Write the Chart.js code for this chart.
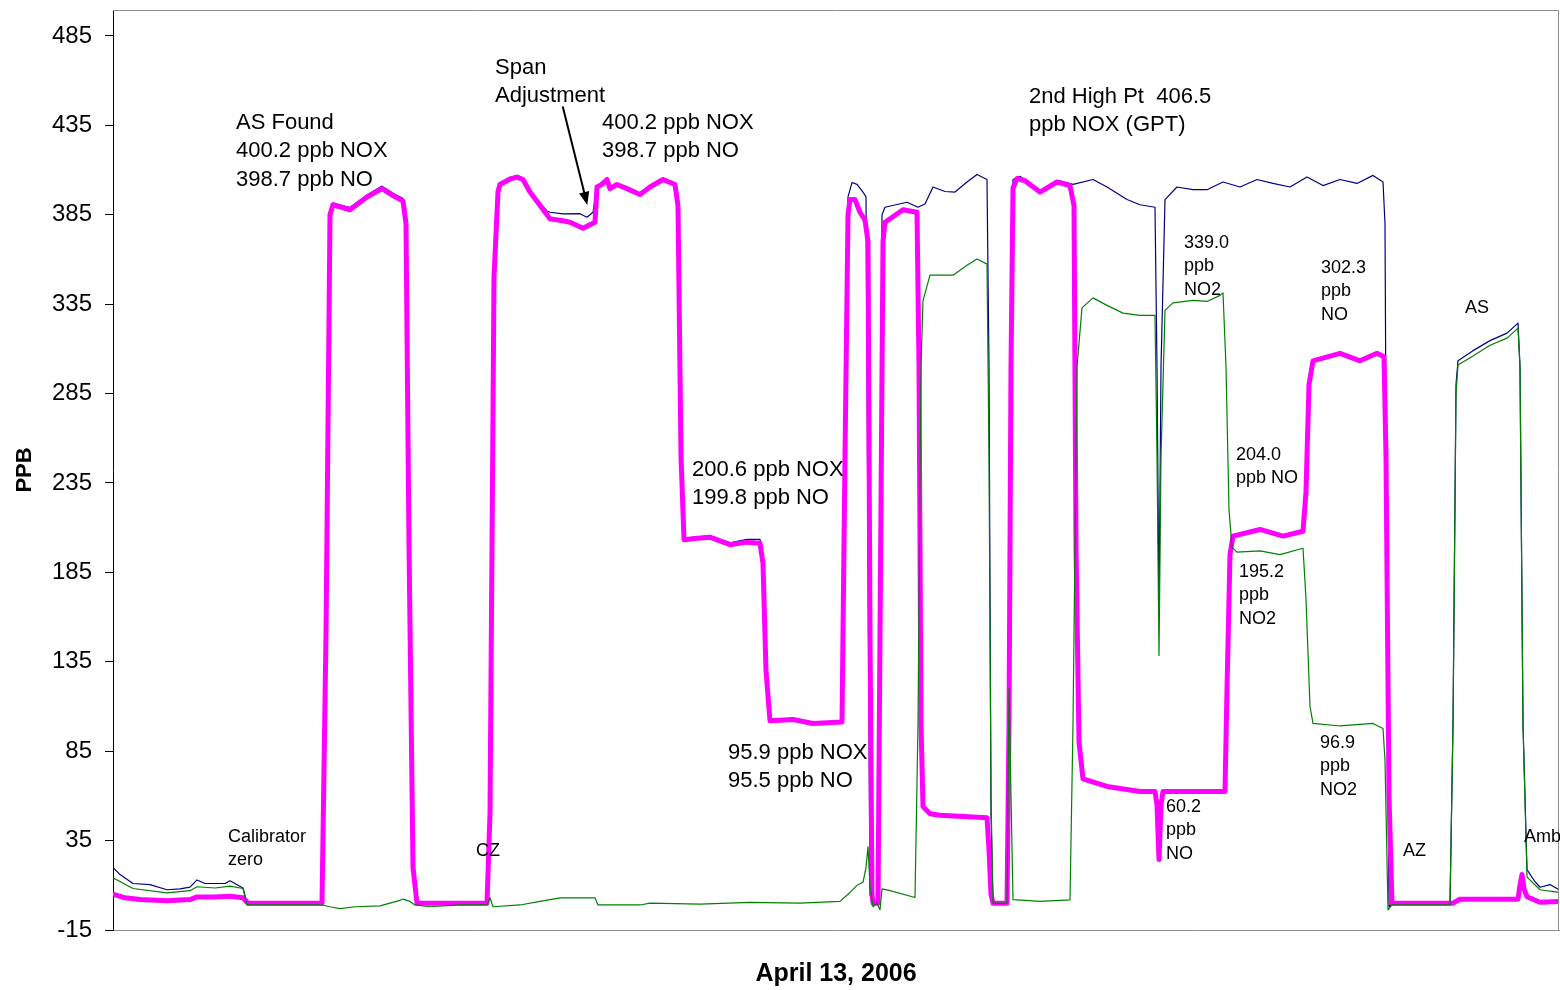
<!DOCTYPE html>
<html>
<head>
<meta charset="utf-8">
<script src="https://cdn.jsdelivr.net/npm/chart.js@4"></script>
<style>
  html, body { margin: 0; padding: 0; background: #fff; }
  #wrap { width: 1560px; height: 990px; }
</style>
</head>
<body>
<div id="wrap"><canvas id="chart" width="1560" height="990"></canvas></div>
<script>
// y axis tick labels (ppb)
const yTicks = [-15, 35, 85, 135, 185, 235, 285, 335, 385, 435, 485];

// NOX analyser trace (sample index, ppb)
const noxT = [0, 7, 20, 37, 54, 67, 77, 84, 92, 102, 112, 117, 125, 130, 134, 209, 213, 217, 220, 237, 254, 269, 280, 290, 293, 296, 300, 304,
  374, 377, 381, 385, 387, 404, 410, 417, 434, 437, 450, 467, 474, 480, 484, 494, 497, 504, 514, 527, 537, 550, 562, 565, 568, 571,
  597, 617, 634, 647, 650, 653, 657, 680, 700, 729, 732, 735, 739, 744, 750, 753, 755, 757, 760, 765, 767, 769, 772, 794, 805, 812,
  820, 832, 842, 854, 864, 874, 876, 878, 880, 895, 897, 900, 907, 927, 947, 960, 980, 994, 1014, 1027, 1042, 1044, 1046, 1048, 1052,
  1064, 1080, 1094, 1110, 1127, 1144, 1160, 1177, 1194, 1210, 1227, 1244, 1260, 1270, 1272, 1274, 1276, 1279, 1337, 1340, 1343, 1345,
  1360, 1377, 1394, 1405, 1407, 1410, 1414, 1422, 1427, 1437, 1446];
const noxV = [20, 16, 11, 10.4, 7.5, 8, 9, 13, 11, 11, 11, 12.5, 10, 8.5, 0, 0, 150, 385, 391.5, 389, 396, 401, 397, 394, 380, 200, 20, 0,
  0, 50, 350, 399, 403, 407, 405.5, 398.5, 387, 386.4, 385.5, 385.6, 383.6, 386.4, 401, 405.5, 400.5, 402.5, 400.5, 397, 401, 405.5, 402.5, 390, 250, 204,
  205.5, 201.5, 203.5, 203.5, 190, 130, 102.5, 103.5, 101, 102, 250, 395, 403, 402, 397.7, 395, 200, 5, 0, 0, 150, 385, 389.2, 392, 389.2, 391,
  400.5, 398, 397.7, 403.3, 407.5, 404.7, 300, 50, 0, 0, 150, 404.7, 406.5, 398.5, 404, 402, 404.7, 400.5, 393.5, 390.6, 389.2, 300, 162, 300, 393.5,
  400.5, 399, 399, 403.3, 400.5, 404.7, 402.5, 400.5, 406.1, 401.3, 404.7, 402.5, 407, 403.3, 380, 150, -2, 0, 0, 100, 290, 303.3,
  309, 314.6, 318.8, 324.4, 300, 100, 18.8, 12, 8.9, 10.4, 7.5];

// NO trace
const noT = [0, 12, 27, 54, 77, 84, 102, 117, 130, 135, 209, 213, 217, 220, 237, 254, 269, 280, 290, 293, 296, 300, 304,
  374, 377, 381, 385, 387, 397, 404, 410, 417, 434, 437, 450, 457, 470, 482, 484, 489, 494, 497, 504, 514, 527, 537, 550, 562, 565, 568, 571,
  582, 597, 617, 634, 647, 650, 653, 657, 680, 700, 729, 732, 735, 737, 742, 747, 752, 755, 757, 759, 760, 765, 767, 770, 772, 790, 804,
  806, 808, 810, 817, 827, 874, 876, 878, 880, 894, 896, 898, 900, 904, 912, 927, 944, 957, 961, 963, 966, 970, 994, 1027, 1042, 1044,
  1046, 1048, 1050, 1112, 1114, 1117, 1120, 1147, 1170, 1190, 1193, 1196, 1200, 1227, 1247, 1264, 1271, 1273, 1276, 1279, 1340, 1347,
  1405, 1407, 1409, 1411, 1414, 1427, 1446];
const noV = [5, 3, 2, 1.4, 2, 3.5, 3.5, 3.9, 3, 0, 0, 150, 385, 390.6, 387.8, 394.9, 399.6, 395.7, 392.6, 380, 200, 20, 0,
  0, 50, 350, 398, 401.9, 405, 406, 404.7, 397.7, 385, 382.7, 381.6, 380.8, 377.4, 380.8, 400.5, 402, 404.7, 399.6, 401.9, 399.6, 396.3, 400.5, 404.7, 401.9, 390, 250, 203.3,
  204, 204.7, 200.5, 201.9, 201.3, 190, 130, 102, 102.7, 100.5, 101.3, 250, 385, 393.5, 393.5, 386.4, 382, 370, 150, 5, 0, 0, 150, 370, 380.8, 387.8, 386.4,
  300, 100, 54, 50, 49.2, 47.8, 30, 5, 0, 0, 100, 300, 400, 405.3, 404, 397.7, 403.3, 401.3, 390, 200, 90, 69.5, 65.3, 62.5, 62.5, 55,
  24.4, 55, 62.5, 62.5, 120, 195, 205.3, 209, 205.3, 208, 230, 290, 303.3, 307.5, 303.3, 307.5, 305.6, 250, 60, 0, 0, 2.2,
  2.2, 10, 16, 8, 3.6, 0.5, 1];

// NO2 trace
const no2T = [0, 20, 54, 77, 84, 102, 117, 130, 134, 209, 217, 227, 242, 267, 287, 290, 297, 302, 317, 347, 374, 377, 380, 407, 427, 447,
  467, 482, 485, 527, 537, 587, 637, 687, 727, 737, 744, 750, 753, 755, 757, 760, 764, 767, 769, 777, 802, 805, 808, 810, 817, 840, 854,
  864, 874, 876, 878, 880, 894, 896, 898, 900, 904, 927, 957, 960, 964, 969, 980, 994, 1010, 1027, 1042, 1044, 1046, 1048, 1052, 1060,
  1080, 1094, 1107, 1110, 1113, 1116, 1119, 1124, 1147, 1167, 1190, 1193, 1197, 1200, 1227, 1260, 1270, 1272, 1275, 1279, 1337, 1340,
  1343, 1345, 1360, 1377, 1394, 1405, 1407, 1410, 1414, 1427, 1446];
const no2V = [14.2, 8.2, 5.8, 7, 9.2, 8.5, 9.5, 8.2, -1, -1, -2, -3, -2, -1.5, 1.6, 2.3, 1, -1, -2, -1, -1, 3, -2, -1, 1, 3,
  3, 3, -1, -1, 0, -0.5, 0.5, 0, 1, 6, 10, 11.7, 20, 31.5, 10, -2, 0, -3.7, 8, 7, 3.2, 100, 300, 337, 351.2, 351.2, 356.8,
  360.2, 357.4, 250, 60, 0, 0, 120, 60, 2, 1.9, 1, 1.9, 100, 300, 332.9, 338.5, 334.3, 330, 328.7, 328.7, 250, 138.5, 250, 331.5, 335.7,
  337.1, 336.5, 339.9, 341.3, 300, 220, 199, 196.3, 197, 194.9, 198.5, 170, 110, 100.5, 99.1, 100.5, 97.7, 80, -3.7, -1, -1, 100,
  285, 301, 306, 312, 316, 321.6, 300, 100, 14.6, 7.5, 6];

// text labels placed at (sample index, ppb of first line)
const bigNotes = [
  { t: 123, v: 436.3, lines: ["AS Found", "400.2 ppb NOX", "398.7 ppb NO"] },
  { t: 382, v: 467.1, lines: ["Span", "Adjustment"] },
  { t: 489, v: 436.3, lines: ["400.2 ppb NOX", "398.7 ppb NO"] },
  { t: 916, v: 450.9, lines: ["2nd High Pt  406.5", "ppb NOX (GPT)"] },
  { t: 579, v: 242.3, lines: ["200.6 ppb NOX", "199.8 ppb NO"] },
  { t: 615, v: 84, lines: ["95.9 ppb NOX", "95.5 ppb NO"] },
];
const smallNotes = [
  { t: 115, v: 37, lines: ["Calibrator", "zero"] },
  { t: 363, v: 29.2, lines: ["CZ"] },
  { t: 1071, v: 369.2, lines: ["339.0", "ppb", "NO2"] },
  { t: 1208, v: 355.2, lines: ["302.3", "ppb", "NO"] },
  { t: 1352, v: 332.9, lines: ["AS"] },
  { t: 1123, v: 250.7, lines: ["204.0", "ppb NO"] },
  { t: 1126, v: 185.2, lines: ["195.2", "ppb", "NO2"] },
  { t: 1207, v: 89.6, lines: ["96.9", "ppb", "NO2"] },
  { t: 1053, v: 53.8, lines: ["60.2", "ppb", "NO"] },
  { t: 1290, v: 29.2, lines: ["AZ"] },
  { t: 1411, v: 37, lines: ["Amb"] },
];
// arrow from the "Span Adjustment" label down to the trace
const arrowFrom = { t: 449.7, v: 445.5 };
const arrowTo = { t: 474.3, v: 390.5 };

const FONT = "'Liberation Sans', Arial, sans-serif";

function pairs(ts, vs) {
  return ts.map((t, i) => ({ x: t, y: vs[i] }));
}

const notesPlugin = {
  id: "notes",
  afterDatasetsDraw(chart) {
    const ctx = chart.ctx;
    const xs = chart.scales.x;
    const ys = chart.scales.y;
    const area = chart.chartArea;
    ctx.save();
    // frame top and right
    ctx.strokeStyle = "#8c8c8c";
    ctx.lineWidth = 1;
    ctx.beginPath();
    ctx.moveTo(area.left, area.top + 0.5);
    ctx.lineTo(area.right - 0.5, area.top + 0.5);
    ctx.lineTo(area.right - 0.5, area.bottom);
    ctx.stroke();

    ctx.fillStyle = "#000";
    ctx.textAlign = "left";
    ctx.textBaseline = "middle";
    const drawNotes = (notes, size, gap) => {
      ctx.font = size + "px " + FONT;
      notes.forEach((n) => {
        const x = xs.getPixelForValue(n.t);
        const y = ys.getPixelForValue(n.v);
        n.lines.forEach((line, i) => ctx.fillText(line, x, y + i * gap));
      });
    };
    drawNotes(bigNotes, 22, 28.3);
    drawNotes(smallNotes, 18, 23.5);

    // arrow
    const x1 = xs.getPixelForValue(arrowFrom.t), y1 = ys.getPixelForValue(arrowFrom.v);
    const x2 = xs.getPixelForValue(arrowTo.t), y2 = ys.getPixelForValue(arrowTo.v);
    const ang = Math.atan2(y2 - y1, x2 - x1);
    const head = 14;
    ctx.strokeStyle = "#000";
    ctx.lineWidth = 2;
    ctx.beginPath();
    ctx.moveTo(x1, y1);
    ctx.lineTo(x2 - Math.cos(ang) * head * 0.8, y2 - Math.sin(ang) * head * 0.8);
    ctx.stroke();
    ctx.beginPath();
    ctx.moveTo(x2, y2);
    ctx.lineTo(x2 - head * Math.cos(ang - 0.38), y2 - head * Math.sin(ang - 0.38));
    ctx.lineTo(x2 - head * Math.cos(ang + 0.38), y2 - head * Math.sin(ang + 0.38));
    ctx.closePath();
    ctx.fill();
    ctx.restore();
  },
};

new Chart(document.getElementById("chart"), {
  type: "line",
  data: {
    // first dataset is drawn on top
    datasets: [
      { label: "NO2", data: pairs(no2T, no2V), borderColor: "#008000", borderWidth: 1.2 },
      { label: "NO", data: pairs(noT, noV), borderColor: "#ff00ff", borderWidth: 5 },
      { label: "NOX", data: pairs(noxT, noxV), borderColor: "#000080", borderWidth: 1.2 },
    ],
  },
  options: {
    responsive: false,
    animation: false,
    elements: {
      point: { radius: 0 },
      line: { tension: 0, fill: false, borderJoinStyle: "round", borderCapStyle: "round" },
    },
    layout: { padding: { top: 10, right: 1, left: 0, bottom: 0 } },
    scales: {
      x: {
        type: "linear",
        min: 0,
        max: 1446,
        ticks: { display: false },
        grid: { display: false },
        border: { color: "#8c8c8c", width: 1 },
        title: {
          display: true,
          text: "April 13, 2006",
          color: "#000",
          font: { family: FONT, size: 25, weight: "bold" },
          padding: { top: 0, bottom: 1 },
        },
        afterFit(scale) {
          scale.height = 60;
          scale.paddingLeft = 0;
          scale.paddingRight = 0;
        },
      },
      y: {
        type: "linear",
        min: -15,
        max: 499.5,
        afterBuildTicks(scale) {
          scale.ticks = yTicks.map((v) => ({ value: v }));
        },
        ticks: {
          color: "#000",
          padding: 13,
          font: { family: FONT, size: 24 },
          callback: (v) => String(v),
        },
        grid: { drawOnChartArea: false, drawTicks: true, tickLength: 8, color: "#000" },
        border: { color: "#000", width: 1 },
        title: {
          display: true,
          text: "PPB",
          color: "#000",
          font: { family: FONT, size: 22, weight: "bold" },
          padding: { top: 12, bottom: 0 },
        },
        afterFit(scale) {
          scale.width = 113;
          scale.paddingTop = 0;
          scale.paddingBottom = 0;
        },
      },
    },
    plugins: {
      legend: { display: false },
      tooltip: { enabled: false },
    },
  },
  plugins: [notesPlugin],
});
</script>
</body>
</html>
